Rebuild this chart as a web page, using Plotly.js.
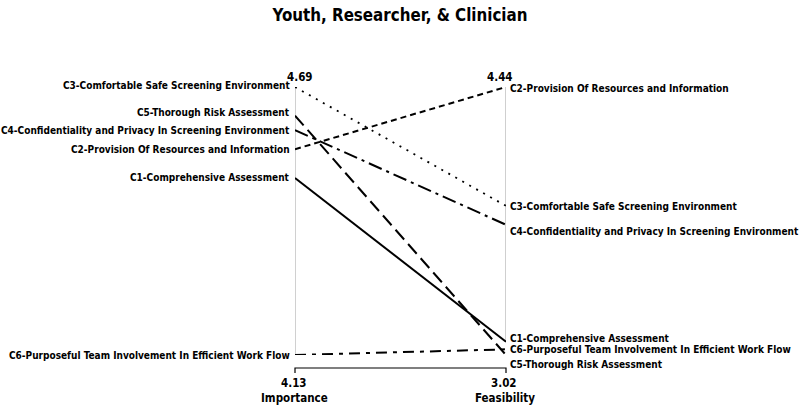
<!DOCTYPE html>
<html>
<head>
<meta charset="utf-8">
<script src="https://cdn.plot.ly/plotly-3.0.1.min.js"></script>
<style>html,body{margin:0;padding:0;background:#fff;}#chart{width:800px;height:406px;}</style>
</head>
<body>
<div id="chart"></div>
<script>
// Data
var criteria = [
  "C1-Comprehensive Assessment",
  "C2-Provision Of Resources and Information",
  "C3-Comfortable Safe Screening Environment",
  "C4-Confidentiality and Privacy In Screening Environment",
  "C5-Thorough Risk Assessment",
  "C6-Purposeful Team Involvement In Efficient Work Flow"
];
var importance = [4.50, 4.56, 4.69, 4.60, 4.63, 4.13];
var feasibility = [3.09, 4.44, 3.81, 3.71, 3.02, 3.05];
var axisNames = ["Importance", "Feasibility"];
var chartTitle = "Youth, Researcher, &amp; Clinician";

// Styles
var dashes = ["solid", "6px,4px", "2px,6px", "14px,5px,3px,5px", "13px,6px", "11px,6px,4px,6px"];
var leftShift = [0, 0, 2, 0, 3, 0];
var rightShift = [3, -1, -1, -7, -9, 0];

// pick a font family & size so that the longest label is ~289px wide
var cv = document.createElement("canvas").getContext("2d");
function w(fam, size, txt){ cv.font = "bold " + size + "px " + fam; return cv.measureText(txt).width; }
var candidates = ["DejaVu Sans Condensed", "Liberation Sans Narrow", "Roboto Condensed", "Open Sans Condensed"];
var fam = "Liberation Sans";
for (var c = 0; c < candidates.length; c++) {
  var t = "abcdefghijklmnopqrstuvwxyz ABC";
  if (w("'" + candidates[c] + "', monospace", 20, t) !== w("monospace", 20, t)) { fam = candidates[c]; break; }
}
var longest = criteria[3];
var fsize = 13 * 289 / w("'" + fam + "'", 13, longest);
fsize = Math.round(fsize * 10) / 10;
var font = "'" + fam + "', sans-serif";

var iMin = Math.min.apply(null, importance), iMax = Math.max.apply(null, importance);
var fMin = Math.min.apply(null, feasibility), fMax = Math.max.apply(null, feasibility);
function nI(v){ return (v - iMin) / (iMax - iMin); }
function nF(v){ return (v - fMin) / (fMax - fMin); }

var traces = [];
var annotations = [];
var lblFont = {family: font, size: fsize, color: "#000", weight: "bold"};
for (var i = 0; i < criteria.length; i++) {
  traces.push({
    x: [0, 1], y: [nI(importance[i]), nF(feasibility[i])],
    mode: "lines", type: "scatter", cliponaxis: false, hoverinfo: "skip",
    line: {color: "#000", width: i === 2 ? 1.8 : 2, dash: dashes[i]},
    showlegend: false
  });
  annotations.push({x: 0, y: nI(importance[i]), xref: "x", yref: "y", text: criteria[i],
    showarrow: false, xanchor: "right", yanchor: "middle", xshift: -3, yshift: leftShift[i], font: lblFont});
  annotations.push({x: 1, y: nF(feasibility[i]), xref: "x", yref: "y", text: criteria[i],
    showarrow: false, xanchor: "left", yanchor: "middle", xshift: 2, yshift: rightShift[i], font: lblFont});
}
var valFont = {family: font, size: fsize + 1.5, color: "#000", weight: "bold"};
annotations.push({x: 0, y: 1, xref: "x", yref: "y", text: iMax.toFixed(2), showarrow: false, xanchor: "center", yanchor: "middle", xshift: 5, yshift: 10, font: valFont});
annotations.push({x: 1, y: 1, xref: "x", yref: "y", text: fMax.toFixed(2), showarrow: false, xanchor: "center", yanchor: "middle", xshift: -6, yshift: 10, font: valFont});
annotations.push({x: 0, y: 0, xref: "x", yref: "y", text: iMin.toFixed(2), showarrow: false, xanchor: "center", yanchor: "middle", xshift: -1, yshift: -28, font: valFont});
annotations.push({x: 1, y: 0, xref: "x", yref: "y", text: fMin.toFixed(2), showarrow: false, xanchor: "center", yanchor: "middle", xshift: -2, yshift: -28, font: valFont});
annotations.push({x: 0, y: 0, xref: "x", yref: "y", text: axisNames[0], showarrow: false, xanchor: "center", yanchor: "middle", xshift: -1, yshift: -43, font: valFont});
annotations.push({x: 1, y: 0, xref: "x", yref: "y", text: axisNames[1], showarrow: false, xanchor: "center", yanchor: "middle", xshift: -1, yshift: -43, font: valFont});

var pxToY = 1 / 268;
var shapes = [
  {type: "line", xref: "x", yref: "y", x0: 0, x1: 0, y0: 1, y1: 0, line: {color: "#b0b0b0", width: 1.2}, layer: "below"},
  {type: "line", xref: "x", yref: "y", x0: 1, x1: 1, y0: 1, y1: nF(feasibility[0]), line: {color: "#b0b0b0", width: 1.2}, layer: "below"},
  {type: "path", xref: "paper", yref: "paper",
   path: "M 0," + (-18 * pxToY) + " L 0," + (-13 * pxToY) + " L 1," + (-13 * pxToY) + " L 1," + (-18 * pxToY),
   line: {color: "#000", width: 1.2}}
];

var tsize = Math.round(19 * 255 / w("'" + fam + "'", 19, "Youth, Researcher, & Clinician") * 10) / 10;
var layout = {
  width: 800, height: 406,
  margin: {l: 295, r: 294, t: 87, b: 51, pad: 0},
  paper_bgcolor: "#fff", plot_bgcolor: "#fff",
  title: {text: chartTitle, x: 0.5, xanchor: "center", y: 0.962, yanchor: "middle",
          font: {family: font, size: tsize, color: "#000", weight: "bold"}},
  xaxis: {range: [0, 1], visible: false, fixedrange: true},
  yaxis: {range: [0, 1], visible: false, fixedrange: true},
  annotations: annotations,
  shapes: shapes,
  showlegend: false
};
Plotly.newPlot("chart", traces, layout, {displayModeBar: false, staticPlot: true});
</script>
</body>
</html>
